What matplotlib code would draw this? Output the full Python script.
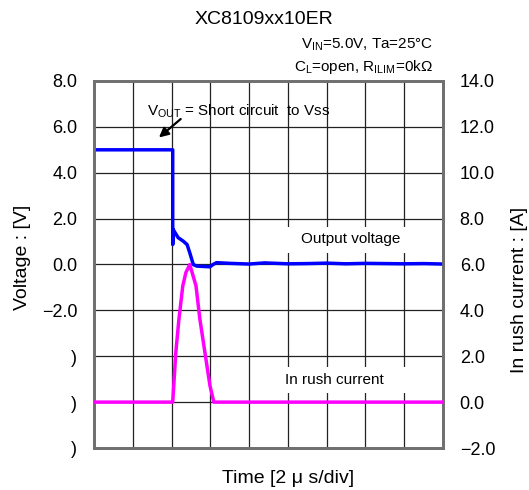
import matplotlib
matplotlib.use("Agg")
import matplotlib.pyplot as plt
from matplotlib.patches import Rectangle

plt.rcParams['font.family'] = ['Liberation Sans', 'Noto Sans CJK JP', 'DejaVu Sans']
plt.rcParams['mathtext.fontset'] = 'custom'
plt.rcParams['mathtext.rm'] = 'Liberation Sans'
plt.rcParams['mathtext.it'] = 'Liberation Sans:italic'

# ---- data (time in divisions, 2 us/div) ----
t_vout = [0, 2.03, 2.03, 2.04, 2.17, 2.30, 2.40, 2.47, 2.56, 2.65, 2.99, 3.07, 3.16,
          3.5, 4.0, 4.4, 5.0, 5.5, 6.0, 6.5, 7.0, 7.5, 8.0, 8.5, 9.0]
v_out = [5.0, 5.0, 0.87, 1.53, 1.17, 1.02, 0.87, 0.51, 0.0, -0.07, -0.10, 0.0, 0.08,
         0.05, 0.02, 0.07, 0.03, 0.04, 0.06, 0.03, 0.05, 0.04, 0.03, 0.04, 0.02]

t_irush = [0, 2.03, 2.11, 2.19, 2.29, 2.37, 2.47, 2.63, 2.73, 2.86, 2.99, 3.09, 9.0]
i_rush = [0.0, 0.0, 2.17, 3.62, 5.07, 5.65, 6.0, 5.07, 3.62, 2.17, 0.72, 0.0, 0.0]

left_ticks = [8.0, 6.0, 4.0, 2.0, 0.0, -2.0, -4.0, -6.0, -8.0]
left_labels = ["8.0", "6.0", "4.0", "2.0", "0.0", "\u22122.0", ")", ")", ")"]
right_ticks = [14.0, 12.0, 10.0, 8.0, 6.0, 4.0, 2.0, 0.0, -2.0]
right_labels = ["14.0", "12.0", "10.0", "8.0", "6.0", "4.0", "2.0", "0.0", "\u22122.0"]
x_divs = list(range(0, 10))

fig = plt.figure(figsize=(5.29, 4.90), dpi=100)
ax = fig.add_axes([94/529, 1-448/490, (443-94)/529, (448-81)/490])
ax2 = ax.twinx()

ax.set_xlim(0, 9)
ax.set_ylim(-8, 8)
ax2.set_ylim(-2, 14)

ax.set_xticks(x_divs)
ax.set_xticklabels([])
ax.set_yticks(left_ticks)
ax.set_yticklabels(left_labels, fontsize=13)
ax2.set_yticks(right_ticks)
ax2.set_yticklabels(right_labels, fontsize=13)
ax.tick_params(axis='both', length=0)
ax.tick_params(axis='y', pad=12)
ax2.tick_params(axis='y', length=0, pad=12)

ax.set_axisbelow(True)
ax.grid(True, color='#222222', linewidth=0.9)

for a in (ax, ax2):
    for s in a.spines.values():
        s.set_color('#707070')
        s.set_linewidth(2)

# white boxes behind labels
ax.add_patch(Rectangle((0.544, 0.531), 0.361, 0.071, transform=ax.transAxes,
                       facecolor='white', edgecolor='none', zorder=1.5))
ax.add_patch(Rectangle((0.544, 0.150), 0.361, 0.071, transform=ax.transAxes,
                       facecolor='white', edgecolor='none', zorder=1.5))

ax.plot(t_vout, v_out, color='#0000ff', linewidth=2.5, zorder=4)
ax2.plot(t_irush, i_rush, color='#ff00ff', linewidth=2.5, zorder=4)

ax.text(6.62, 1.09, "Output voltage", fontsize=11, ha='center', va='center', zorder=3)
ax.text(6.21, -5.02, "In rush current", fontsize=11, ha='center', va='center', zorder=3)

ax.annotate("", xy=(1.62, 5.46), xytext=(2.29, 6.42),
            arrowprops=dict(arrowstyle='-|>', color='black', lw=1.6, mutation_scale=14))
ax.text(1.37, 6.66, r"V$_{\mathrm{OUT}}$ = Short circuit  to Vss", fontsize=11,
        ha='left', va='center')

yl = ax.set_ylabel("Voltage : [V]", fontsize=14)
yl.set_va('center')
ax.yaxis.set_label_coords(-0.206, 0.52)
yr = ax2.set_ylabel("In rush current : [A]", fontsize=14)
yr.set_va('center')
ax2.yaxis.set_label_coords(1.22, 0.43)
xl = ax.set_xlabel("Time [2 \u03bc s/div]", fontsize=14)
xl.set_va('center')
ax.xaxis.set_label_coords(0.555, -0.083)

fig.text(264/529, 1-20/490, "XC8109xx10ER", fontsize=14, ha='center', va='center')
fig.text(433/529, 1-45/490, "V$_{\\mathrm{IN}}$=5.0V, Ta=25\u00b0C",
         fontsize=11, ha='right', va='center')
fig.text(433/529, 1-67/490, "C$_{\\mathrm{L}}$=open, R$_{\\mathrm{ILIM}}$=0k\u03a9",
         fontsize=11, ha='right', va='center')

fig.savefig("out.png", dpi=100)
